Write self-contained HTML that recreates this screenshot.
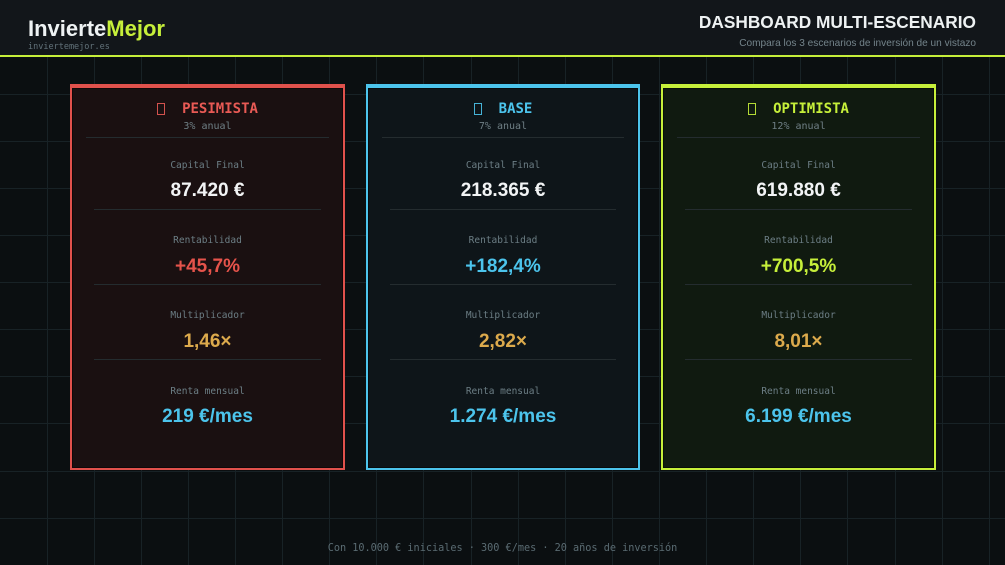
<!DOCTYPE html>
<html><head><meta charset="utf-8"><style>
*{margin:0;padding:0;box-sizing:border-box}
html,body{width:1005px;height:565px;overflow:hidden;background:#0b0f11}
body{position:relative;font-family:"Liberation Sans",sans-serif}
.grid{position:absolute;left:0;top:0}
.header{position:absolute;left:0;top:0;width:1005px;height:57px;background:#12161a;border-bottom:2px solid #c6ef3a}
.logo{position:absolute;left:28px;top:18px;font-size:22px;line-height:22px;font-weight:bold;color:#eef2f3;white-space:nowrap}
.logo span{color:#c6ef3a}
.domain{position:absolute;left:28px;top:42px;font-family:"DejaVu Sans Mono",monospace;font-size:8.5px;line-height:10px;color:#62727a}
.dtitle{position:absolute;right:29px;top:12px;font-size:17.3px;line-height:20px;font-weight:bold;color:#eef2f3;white-space:nowrap}
.dsub{position:absolute;right:29px;top:37px;font-size:10.1px;line-height:14px;color:#74848b;white-space:nowrap}
.card{position:absolute;top:84px;width:275px;height:386px;border:2px solid;border-top-width:4px;box-shadow:inset 0 0 0 1px rgba(0,0,0,0.45)}
.c1{left:70px;border-color:#e0514c;background:#1a1011}
.c2{left:366px;width:274px;border-color:#4cc4ec;background:#0e1519}
.c3{left:661px;border-color:#c6ef3a;background:#101a10}
.card .t{position:absolute;left:0;right:0;top:11px;height:20px;display:flex;justify-content:center;align-items:center;font-family:"DejaVu Sans Mono",monospace;font-weight:bold;font-size:14px}
.card .t i{display:inline-block;width:8px;height:12px;border:1.5px solid;margin-right:17px;opacity:.9}
.c1 .t{color:#e85a55}.c2 .t{color:#4cc4ec}.c3 .t{color:#c6ef3a}
.card .a{position:absolute;left:0;right:0;top:32px;height:14px;line-height:14px;text-align:center;font-family:"DejaVu Sans Mono",monospace;font-size:10px;color:#6f7f85}
.card .hd{position:absolute;left:14px;right:14px;top:49px;height:1px;background:#242c2f}
.card .l{position:absolute;left:0;right:0;height:14px;line-height:14px;text-align:center;font-family:"DejaVu Sans Mono",monospace;font-size:9.5px;color:#6c7e85}
.card .v{position:absolute;left:0;right:0;height:24px;line-height:24px;text-align:center;font-weight:bold;font-size:19px;white-space:nowrap}
.card .d{position:absolute;left:22px;right:22px;height:1px;background:#242c2f}
.w{color:#f2f4f5}.red{color:#e5534b}.cy{color:#4cc4ec}.li{color:#c6ef3a}.go{color:#dcaa4c}
.foot{position:absolute;left:0;width:1005px;top:542px;height:14px;line-height:14px;text-align:center;font-family:"DejaVu Sans Mono",monospace;font-size:10.2px;color:#5a6b72}
</style></head><body>
<svg class="grid" width="1005" height="565" xmlns="http://www.w3.org/2000/svg">
<g stroke="#182226" stroke-width="1">
<line x1="47.5" y1="0" x2="47.5" y2="565"/><line x1="94.5" y1="0" x2="94.5" y2="565"/><line x1="141.5" y1="0" x2="141.5" y2="565"/><line x1="188.5" y1="0" x2="188.5" y2="565"/><line x1="235.5" y1="0" x2="235.5" y2="565"/><line x1="282.5" y1="0" x2="282.5" y2="565"/><line x1="329.5" y1="0" x2="329.5" y2="565"/><line x1="376.5" y1="0" x2="376.5" y2="565"/><line x1="423.5" y1="0" x2="423.5" y2="565"/><line x1="471.5" y1="0" x2="471.5" y2="565"/><line x1="518.5" y1="0" x2="518.5" y2="565"/><line x1="565.5" y1="0" x2="565.5" y2="565"/><line x1="612.5" y1="0" x2="612.5" y2="565"/><line x1="659.5" y1="0" x2="659.5" y2="565"/><line x1="706.5" y1="0" x2="706.5" y2="565"/><line x1="753.5" y1="0" x2="753.5" y2="565"/><line x1="800.5" y1="0" x2="800.5" y2="565"/><line x1="847.5" y1="0" x2="847.5" y2="565"/><line x1="895.5" y1="0" x2="895.5" y2="565"/><line x1="942.5" y1="0" x2="942.5" y2="565"/><line x1="989.5" y1="0" x2="989.5" y2="565"/>
<line x1="0" y1="94.5" x2="1005" y2="94.5"/><line x1="0" y1="141.5" x2="1005" y2="141.5"/><line x1="0" y1="188.5" x2="1005" y2="188.5"/><line x1="0" y1="235.5" x2="1005" y2="235.5"/><line x1="0" y1="282.5" x2="1005" y2="282.5"/><line x1="0" y1="329.5" x2="1005" y2="329.5"/><line x1="0" y1="376.5" x2="1005" y2="376.5"/><line x1="0" y1="423.5" x2="1005" y2="423.5"/><line x1="0" y1="471.5" x2="1005" y2="471.5"/><line x1="0" y1="518.5" x2="1005" y2="518.5"/>
</g></svg>

<div class="header">
<div class="logo">Invierte<span>Mejor</span></div>
<div class="domain">inviertemejor.es</div>
<div class="dtitle">DASHBOARD MULTI-ESCENARIO</div>
<div class="dsub">Compara los 3 escenarios de inversión de un vistazo</div>
</div>

<div class="card c1">
<div class="t"><i></i>PESIMISTA</div>
<div class="a">3% anual</div>
<div class="hd"></div>
<div class="l" style="top:71px">Capital Final</div>
<div class="v w" style="top:91px">87.420 €</div>
<div class="d" style="top:121px"></div>
<div class="l" style="top:146px">Rentabilidad</div>
<div class="v red" style="top:167px">+45,7%</div>
<div class="d" style="top:196px"></div>
<div class="l" style="top:221px">Multiplicador</div>
<div class="v go" style="top:242px">1,46×</div>
<div class="d" style="top:271px"></div>
<div class="l" style="top:297px">Renta mensual</div>
<div class="v cy" style="top:317px">219 €/mes</div>
</div>

<div class="card c2">
<div class="t"><i></i>BASE</div>
<div class="a">7% anual</div>
<div class="hd"></div>
<div class="l" style="top:71px">Capital Final</div>
<div class="v w" style="top:91px">218.365 €</div>
<div class="d" style="top:121px"></div>
<div class="l" style="top:146px">Rentabilidad</div>
<div class="v cy" style="top:167px">+182,4%</div>
<div class="d" style="top:196px"></div>
<div class="l" style="top:221px">Multiplicador</div>
<div class="v go" style="top:242px">2,82×</div>
<div class="d" style="top:271px"></div>
<div class="l" style="top:297px">Renta mensual</div>
<div class="v cy" style="top:317px">1.274 €/mes</div>
</div>

<div class="card c3">
<div class="t"><i></i>OPTIMISTA</div>
<div class="a">12% anual</div>
<div class="hd"></div>
<div class="l" style="top:71px">Capital Final</div>
<div class="v w" style="top:91px">619.880 €</div>
<div class="d" style="top:121px"></div>
<div class="l" style="top:146px">Rentabilidad</div>
<div class="v li" style="top:167px">+700,5%</div>
<div class="d" style="top:196px"></div>
<div class="l" style="top:221px">Multiplicador</div>
<div class="v go" style="top:242px">8,01×</div>
<div class="d" style="top:271px"></div>
<div class="l" style="top:297px">Renta mensual</div>
<div class="v cy" style="top:317px">6.199 €/mes</div>
</div>

<div class="foot">Con 10.000 € iniciales · 300 €/mes · 20 años de inversión</div>
</body></html>
